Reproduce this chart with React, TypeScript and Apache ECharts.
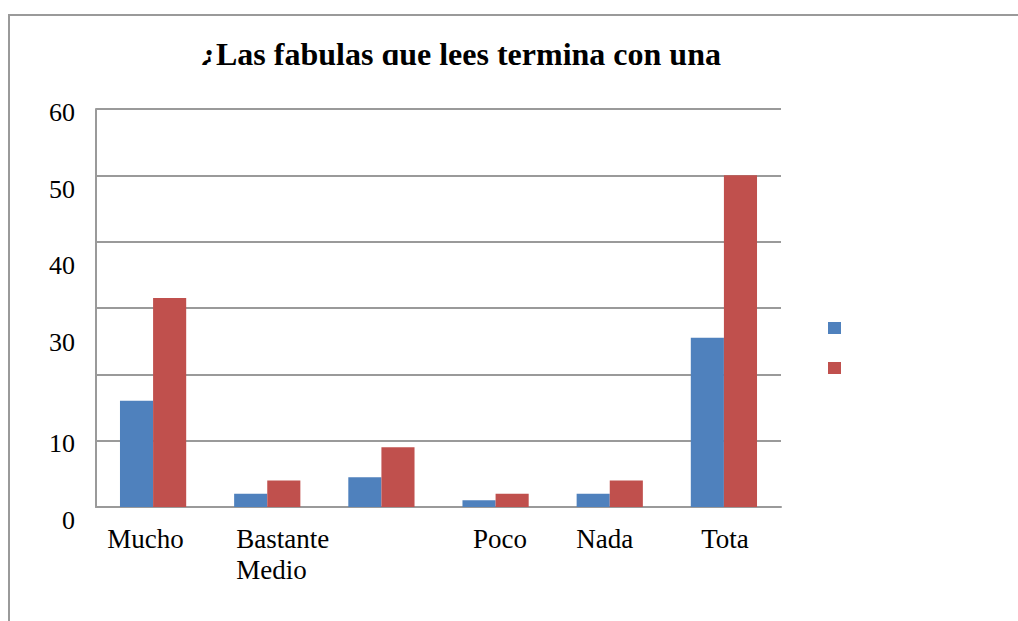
import React, { useEffect, useRef } from "react";
import * as echarts from "echarts";

const titleText = "¿Las fabulas que lees termina con una";
const categories = ["Mucho", "Bastante\nMedio", "", "Poco", "Nada", "Tota"];
const serieNames = ["Serie 1", "Serie 2"];
const serie1 = [16, 2, 4.5, 1, 2, 25.5];
const serie2 = [31.5, 4, 9, 2, 4, 50];
const yTickValues = [0, 10, 20, 30, 40, 50, 60];
const yTickLabels = ["0", "10", "", "30", "40", "50", "60"];

// visual offsets of the labels (style only)
const yLabelShift = [13, 3, 0, 34, 23.5, 14, 3];
const xLabelShift = [-7.5, 15.5, 0, 4.5, -5, 1];

const FONT = "'Liberation Serif', 'Times New Roman', serif";

export default function App() {
  const ref = useRef<HTMLDivElement>(null);
  useEffect(() => {
    if (!ref.current) return;
    const chart = echarts.init(ref.current, null, { renderer: "svg" });

    const yRich: any = {};
    yTickValues.forEach((v, i) => {
      const s = yLabelShift[i];
      yRich["y" + i] = {
        fontFamily: FONT,
        fontSize: 26,
        color: "#000",
        padding: [Math.max(0, 2 * s), 0, Math.max(0, -2 * s), 0],
      };
    });
    const xRich: any = {};
    categories.forEach((c, i) => {
      const s = xLabelShift[i];
      xRich["x" + i] = {
        fontFamily: FONT,
        fontSize: 27,
        lineHeight: 31,
        color: "#000",
        align: "left",
        padding: [0, Math.max(0, -2 * s), 0, Math.max(0, 2 * s)],
      };
    });

    const gray = "#9a9a9a";
    chart.setOption({
      animation: false,
      backgroundColor: "#fff",
      title: {
        text: titleText,
        left: 200,
        top: 38,
        padding: 0,
        textStyle: { fontFamily: FONT, fontSize: 32, fontWeight: "bold", color: "#000" },
      },
      legend: {
        data: serieNames,
        orient: "vertical",
        left: 828,
        top: 322,
        padding: 0,
        itemWidth: 13,
        itemHeight: 12,
        itemGap: 28,
        icon: "rect",
        formatter: () => "",
        selectedMode: false,
      },
      grid: {
        left: 96,
        right: 237,
        top: 109,
        bottom: 114,
        outerBoundsMode: "none",
      },
      xAxis: {
        type: "category",
        data: categories,
        axisLine: { lineStyle: { color: gray, width: 2 } },
        axisTick: { show: false },
        axisLabel: {
          interval: 0,
          margin: 16,
          verticalAlign: "top",
          formatter: (value: string, index: number) =>
            value
              .split("\n")
              .map((line) => `{x${index}|${line}}`)
              .join("\n"),
          rich: xRich,
        },
      },
      yAxis: {
        type: "value",
        min: 0,
        max: 60,
        interval: 10,
        axisLine: { show: true, lineStyle: { color: gray, width: 2 } },
        axisTick: { show: false },
        splitLine: { lineStyle: { color: gray, width: 2 } },
        axisLabel: {
          margin: 21,
          formatter: (value: number) => {
            const i = yTickValues.indexOf(value);
            if (i < 0 || yTickLabels[i] === "") return "";
            return `{y${i}|${yTickLabels[i]}}`;
          },
          rich: yRich,
        },
      },
      series: [
        {
          name: serieNames[0],
          type: "bar",
          data: serie1,
          barGap: "0%",
          barCategoryGap: "42%",
          itemStyle: { color: "#4F81BD" },
        },
        {
          name: serieNames[1],
          type: "bar",
          data: serie2,
          barGap: "0%",
          barCategoryGap: "42%",
          itemStyle: { color: "#C0504D" },
        },
      ],
      graphic: [
        {
          type: "rect",
          z: 100,
          shape: { x: 150, y: 65, width: 650, height: 30 },
          style: { fill: "#fff" },
          silent: true,
        },
        {
          type: "rect",
          z: 100,
          shape: { x: 9, y: 15, width: 1200, height: 800 },
          style: { fill: "none", stroke: gray, lineWidth: 2 },
          silent: true,
        },
      ],
    });
    return () => chart.dispose();
  }, []);
  return (
    <div
      ref={ref}
      style={{ position: "absolute", left: 0, top: 0, width: 1018, height: 621 }}
    />
  );
}
